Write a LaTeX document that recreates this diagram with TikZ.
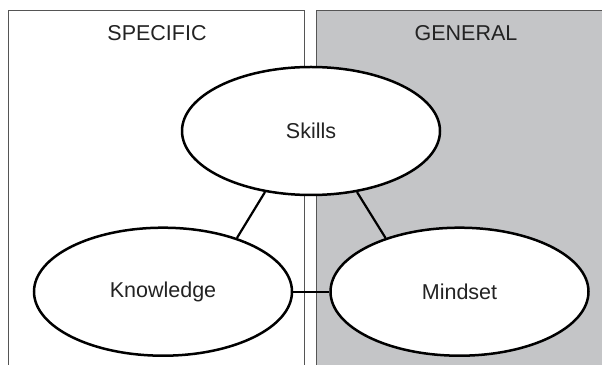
\documentclass[tikz,border=0pt]{standalone}
\usepackage{fontspec}
\setmainfont{Liberation Sans}
\usepackage{tikz}
\usetikzlibrary{shapes.geometric,positioning}
\definecolor{panelgray}{RGB}{196,197,199}
\definecolor{rule}{RGB}{85,85,85}
\definecolor{ink}{RGB}{35,35,35}

\begin{document}
\begin{tikzpicture}[x=1pt,y=1pt,
  pane/.style={draw=rule,line width=1pt},
  oval/.style={ellipse,draw=black,fill=white,line width=2.5pt,minimum width=258pt,minimum height=128pt,inner sep=0pt,text=ink,font=\fontsize{21.5}{24}\selectfont},
  head/.style={text=ink,font=\fontsize{21.5}{24}\selectfont},
  link/.style={draw=black,line width=2.2pt}]
  \useasboundingbox (0,0) rectangle (602,364);
  \clip (0,0) rectangle (602,364);
  % the two panels
  \draw[pane] (8.7,-2) -- (8.7,353.3) -- (304.7,353.3) -- (304.7,-2);
  \fill[panelgray] (316.3,-2) rectangle (604,353.3);
  \draw[pane] (316.3,-2) -- (316.3,353.3) -- (604,353.3);
  \node[head] (spec) at (157,330.5) {SPECIFIC};
  \node[head] (gen) at (466,330.5) {GENERAL};
  % ovals
  \node[oval] (skills) at (311,233) {Skills};
  \node[oval] (know) at (163,72.3) {Knowledge};
  \node[oval] (mind) at (459.5,72.3) {Mindset};
  \draw[link] (skills.233) -- (know.36);
  \draw[link] (skills.307) -- (mind.144);
  \draw[link] (know.east) -- (mind.west);
\end{tikzpicture}
\end{document}
